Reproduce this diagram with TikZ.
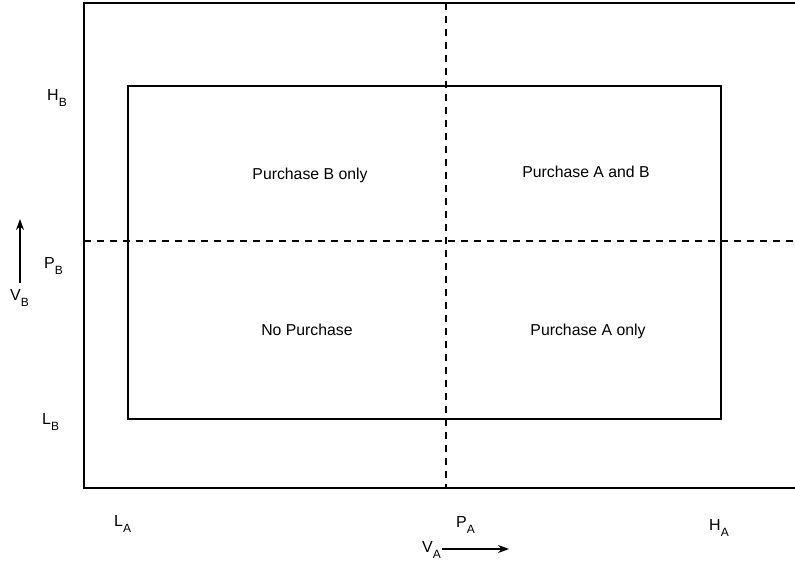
\documentclass[tikz,border=0pt]{standalone}
\usepackage{fontspec}
\setmainfont{Liberation Sans}
\usetikzlibrary{arrows.meta}
\newcommand{\sublbl}[2]{#1\raisebox{-6pt}{\fontsize{12}{12}\selectfont #2}}
\tikzset{
  frameline/.style={line width=1.6pt, black},
  boxline/.style={line width=1.4pt, black},
  divline/.style={line width=1.2pt, black, dash pattern=on 7pt off 6pt},
  region/.style={font=\fontsize{15.8}{18}\selectfont, inner sep=0pt, anchor=base},
  axlbl/.style={font=\fontsize{16}{18}\selectfont, inner sep=0pt, anchor=base west},
  dirarrow/.style={line width=1.4pt, -{Stealth[length=11pt,width=8pt]}}
}
\begin{document}
\begin{tikzpicture}[x=1pt,y=-1pt]
\useasboundingbox (0,0) rectangle (795,563);
% outer frame (open on the right)
\coordinate (otr) at (795,3);
\coordinate (otl) at (84,3);
\coordinate (obl) at (84,488);
\coordinate (obr) at (795,488);
\draw[frameline] (otr) -- (otl) -- (obl) -- (obr);
% inner rectangle
\coordinate (itl) at (128,86);
\coordinate (ibr) at (721,419);
\draw[boxline] (itl) rectangle (ibr);
% dividers
\coordinate (vtop) at (446,3);
\coordinate (vbot) at (446,488);
\coordinate (hl) at (84,241);
\coordinate (hr) at (795,241);
\draw[divline] (vtop) -- (vbot);
\draw[divline] (hl) -- (hr);
% region labels
\node[region] (bonly) at (310,179) {Purchase B only};
\node[region] (ab) at (586,177) {Purchase A and B};
\node[region] (none) at (307,335) {No Purchase};
\node[region] (aonly) at (588,335) {Purchase A only};
% axis labels
\node[axlbl] (hb) at (47,100) {\sublbl{H}{B}};
\node[axlbl] (pb) at (44,268) {\sublbl{P}{B}};
\node[axlbl] (lb) at (42,424) {\sublbl{L}{B}};
\node[axlbl] (vb) at (10,300) {\sublbl{V}{B}};
\node[axlbl] (la) at (114,526) {\sublbl{L}{A}};
\node[axlbl] (pa) at (456,527) {\sublbl{P}{A}};
\node[axlbl] (ha) at (709,530) {\sublbl{H}{A}};
\node[axlbl] (va) at (422,552) {\sublbl{V}{A}};
% direction arrows
\coordinate (vbs) at (20,283);
\coordinate (vbe) at (20,219);
\draw[dirarrow] (vbs) -- (vbe);
\coordinate (vas) at (442,549);
\coordinate (vae) at (509,549);
\draw[dirarrow] (vas) -- (vae);
\end{tikzpicture}
\end{document}
